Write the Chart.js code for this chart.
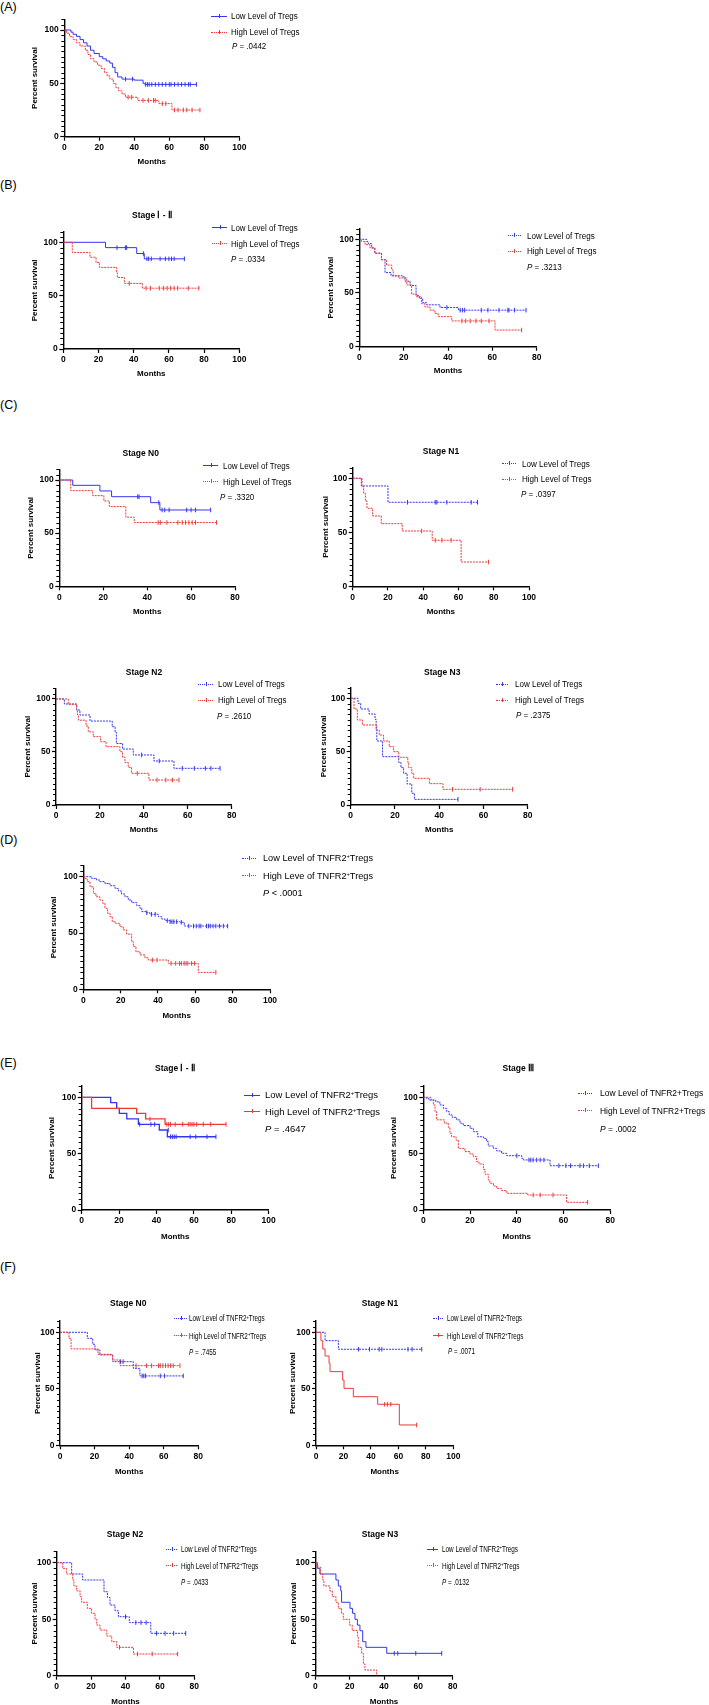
<!DOCTYPE html>
<html><head><meta charset="utf-8">
<script src="https://cdn.jsdelivr.net/npm/chart.js@4.4.1/dist/chart.umd.min.js"></script>
<style>
html,body{margin:0;padding:0;background:#fff}
body{width:709px;height:1705px;position:relative;overflow:hidden;font-family:"Liberation Sans",Arial,Helvetica,sans-serif;color:#000}
canvas{position:absolute}
.t{position:absolute;white-space:nowrap;line-height:1}
sup{font-size:0.62em;vertical-align:0;position:relative;top:-0.5em}
</style></head><body>
<script>
// ---------------- DATA ----------------
const X_TICKS_100 = [0,20,40,60,80,100];
const X_TICKS_80 = [0,20,40,60,80];
const Y_TICKS = [0,50,100];
const Y_MINOR = [5,10,15,20,25,30,35,40,45,55,60,65,70,75,80,85,90,95,105,110];

const LEG_TREGS = ['Low Level of Tregs','High Level of Tregs'];
const LEG_TNFR2_D = ['Low Level of TNFR2<sup>+</sup>Tregs','High Leve of TNFR2<sup>+</sup>Tregs'];
const LEG_TNFR2 = ['Low Level of TNFR2<sup>+</sup>Tregs','High Level of TNFR2<sup>+</sup>Tregs'];
const LEG_TNFR2_PLAIN = ['Low Level of TNFR2+Tregs','High Level of TNFR2+Tregs'];

// (A)
const A_low = [[0,100],[3.8,98],[5,96],[7,94],[9,91],[11,88],[13,85],[15,81],[17,78],[20,75],[22,73],[24,71],[26,69],[27.5,65],[29,60],[30.5,56],[33,54],[40,53],[45,50],[46,49],[75.5,49]];
const A_lowCens = [[35,54],[39,54],[46.5,49],[47.5,49],[48.5,49],[50,49],[52,49],[54,49],[56,49],[58,49],[60,49],[61,49],[63,49],[65,49],[67,49],[69,49],[71,49],[72,49],[75.5,49]];
const A_high = [[0,100],[1.3,97],[3,94],[5,91],[7,88],[9,85],[12,81],[13.5,77],[15,73],[17,70],[19,67],[21,64],[23,60],[24.5,57],[26,54],[28,50],[29.5,46],[31,43],[33,40],[35,37],[42,34],[54,31],[61.5,25],[77.5,25]];
const A_highCens = [[36.5,37],[38.5,37],[45,34],[48,34],[51,34],[52,34],[56,31],[58,31],[63,25],[65,25],[68,25],[70,25],[73,25],[77.5,25]];
// (B) Stage I-II
const BL_low = [[0,100],[24,95],[41.7,89.5],[46,84.5],[68.8,84.5]];
const BL_lowCens = [[30.5,95],[35.3,95],[36,95],[45.5,89.5],[47.5,84.5],[48.5,84.5],[50,84.5],[55,84.5],[58,84.5],[60,84.5],[61.5,84.5],[63,84.5],[68.8,84.5]];
const BL_high = [[0,100],[5.1,90.5],[15.2,86],[18.6,81],[20.5,76.5],[30.3,71.5],[30.7,67],[34.7,61.5],[44.9,57],[77,57]];
const BL_highCens = [[37.5,61.5],[47,57],[49.5,57],[54.5,57],[57,57],[59,57],[61,57],[63,57],[65,57],[71,57],[77,57]];
// (B) right
const BR_low = [[0,100],[3.3,98],[4,96],[5.6,92],[7,87],[10,81],[11.6,69],[14.3,66],[19.5,65],[20.6,61],[22.9,57],[25.6,47.5],[27,45],[28.6,41],[30.4,39],[36.4,36.5],[44.7,34],[75.2,34]];
const BR_lowCens = [[39.5,36.5],[45.5,34],[46.5,34],[47.5,34],[55,34],[58,34],[63,34],[67,34],[67.5,34],[70,34],[75.2,34]];
const BR_high = [[0,100],[1,98],[2.6,95],[4.8,92],[7,87],[10,81],[12.3,76],[14.6,71.5],[15.3,66],[17.6,64],[21.4,57.5],[23.6,49],[25.9,46.5],[28.1,40],[29.6,37],[31.9,34],[34.1,31],[35.6,28],[41.7,24],[61.2,15.5],[73.2,15.5]];
const BR_highCens = [[46.3,24],[48,24],[50,24],[52.6,24],[55,24],[58.5,24],[73.2,15.5]];
// (C) N0
const CN0_low = [[0,100],[6.1,95],[18.5,89.7],[23.8,84.3],[41.6,78.7],[45.8,71.8],[68.9,71.8]];
const CN0_lowCens = [[35.7,84.3],[36.3,84.3],[45.3,78.7],[46.8,71.8],[48,71.8],[50,71.8],[58,71.8],[60,71.8],[62,71.8],[68.9,71.8]];
const CN0_high = [[0,100],[5.2,90],[15.2,85.3],[20.3,80.3],[22.8,75],[30.3,65],[34.1,60],[71.6,60]];
const CN0_highCens = [[45,60],[46,60],[49,60],[54,60],[56,60],[57.5,60],[59,60],[60.5,60],[62,60],[71.6,60]];
// (C) N1
const CN1_low = [[0,100],[4.9,92.9],[20,77.8],[70.8,77.8]];
const CN1_lowCens = [[31.1,77.8],[46.8,77.8],[47.7,77.8],[53.4,77.8],[67.2,77.8],[70.8,77.8]];
const CN1_high = [[0,100],[5.3,92.3],[6.2,86.1],[7.2,79],[8.1,72.2],[11.3,65.1],[16.2,58],[28.1,51.2],[45.1,42.6],[61.5,22.5],[77,22.5]];
const CN1_highCens = [[39.1,51.2],[46.8,42.6],[50.6,42.6],[55.8,42.6],[77,22.5]];
// (C) N2
const CN2_low = [[0,100],[3.8,95.3],[9.4,89.6],[10.9,84.9],[15.5,79.2],[25.6,73.9],[26.9,68.6],[27.5,58],[30.3,52.8],[35.2,47.2],[44.6,41.5],[53.7,34.6],[74.7,34.6]];
const CN2_lowCens = [[39,47.2],[47,41.5],[57.5,34.6],[63,34.6],[68,34.6],[70.5,34.6],[74.7,34.6]];
const CN2_high = [[0,100],[5.6,95],[9.4,89.6],[9.8,85],[10.2,80],[13.7,74.5],[14.7,69],[17,64.5],[20.3,59.7],[22.8,55],[29.1,50.3],[30.3,45],[31.4,40],[32.9,35.5],[34.4,29.9],[42.3,23.6],[56,23.6]];
const CN2_highCens = [[37,29.9],[46,23.6],[50,23.6],[53,23.6],[56,23.6]];
// (C) N3
const CN3_low = [[0,100],[3.3,95.3],[4.5,90],[8.3,85.3],[11,80.3],[11.5,70],[11.8,60],[14.4,45.3],[21.7,40],[22.7,35],[23.9,29.7],[25.5,19.7],[27.6,11],[28.8,5.3],[48.5,5.3]];
const CN3_lowCens = [[48.5,5.3]];
const CN3_high = [[0,100],[1.5,90],[3,79.7],[5.3,75],[11.8,70.3],[12.9,65.6],[14.8,60],[17.4,54.7],[19.4,50],[21.7,44.7],[25.8,40],[26.2,35],[27.6,29.7],[28.5,25],[35.6,20],[41.7,14.7],[73.2,14.7]];
const CN3_highCens = [[46,14.7],[58.5,14.7],[73.2,14.7]];
// (D)
const D_low = [[0,100],[4.5,98.5],[7.1,97],[8.9,95.6],[11.6,94],[14.3,92],[17,89.6],[18.8,87.3],[20.5,84.6],[22.3,82.2],[24.1,79.3],[25.9,77],[28.6,74.3],[30.4,71.9],[31.3,69],[33.9,68],[35.7,66.6],[40.2,64.5],[42,62.4],[43.8,61],[46.4,60],[51.8,59.5],[54.1,56.2],[77.3,56.2]];
const D_lowCens = [[34,68],[36.5,66.6],[38.5,66.6],[45,61],[46.5,60],[47.5,60],[48.5,60],[50,60],[52.5,59.5],[56.5,56.2],[59,56.2],[60.5,56.2],[62,56.2],[63,56.2],[66,56.2],[67,56.2],[68,56.2],[69.5,56.2],[71,56.2],[73,56.2],[75,56.2],[77.3,56.2]];
const D_high = [[0,100],[0.9,98.5],[2.1,95.6],[3.6,91],[5.4,85.2],[6.8,82.2],[8.9,79.3],[10.4,76.3],[11.6,71.9],[13,67.5],[14.3,64.5],[15.5,60],[17.3,58.6],[19.6,55.6],[21.4,52.7],[23.2,49],[25.9,42.3],[26.8,37.9],[28.2,33.4],[30.4,30.5],[33,28],[34.8,26],[45.5,23],[61.6,15],[71,15]];
const D_highCens = [[37,26],[39.5,26],[47,23],[49.5,23],[51.5,23],[52.5,23],[54,23],[55,23],[56,23],[58,23],[59.5,23],[71,15]];
// (E) Stage I-II
const EL_low = [[0,100],[15.5,95.3],[18.7,90.2],[20.1,85.8],[24.1,80.8],[30.3,76],[41.5,71],[45.8,65],[71.8,65]];
const EL_lowCens = [[31,76],[37,76],[39,76],[46.3,71],[47.5,65],[48.5,65],[49.5,65],[50.5,65],[58,65],[61,65],[67,65],[71.8,65]];
const EL_high = [[0,100],[5.3,90.2],[29.4,85.8],[34.2,80.8],[44.6,76],[77.2,76]];
const EL_highCens = [[36.5,80.8],[45.5,76],[46.5,76],[47.5,76],[50,76],[54,76],[57,76],[58,76],[59,76],[60,76],[61.5,76],[65,76],[69,76],[77.2,76]];
// (E) Stage III
const ER_low = [[0,100],[1.4,99],[2.4,97.6],[5.3,96],[7.1,93.2],[8.6,90.2],[10,87.3],[11.1,84.3],[12.4,82.2],[14.3,80],[15.7,77],[17.1,74.9],[20,72.5],[21.4,69.5],[23.3,65],[25.7,63.6],[27.1,60.7],[27.8,56.8],[30,54.7],[31.4,52.4],[33.5,50.3],[35.7,48.2],[42.1,45.9],[42.8,44.4],[54.2,39.3],[74.9,39.3]];
const ER_lowCens = [[40,48.2],[45.2,44.4],[46,44.4],[47,44.4],[48.5,44.4],[50,44.4],[51.6,44.4],[58,39.3],[61,39.3],[63,39.3],[67,39.3],[68.5,39.3],[71,39.3],[74.9,39.3]];
const ER_high = [[0,100],[3.3,97.6],[4.3,93.2],[5,87.3],[5.7,80],[9,77],[10.7,73.4],[11.4,68],[12.1,65],[14,62],[15,54.7],[17.8,51.8],[20,49.7],[21.4,47.3],[22.8,42.9],[23.8,40.8],[25.7,36],[26.4,31.7],[27.8,26.6],[28.5,23.7],[30,21.3],[31.4,19.2],[33.5,17.2],[35.7,14.8],[44.7,13.3],[61.3,6.8],[70.3,6.8]];
const ER_highCens = [[47,13.3],[50,13.3],[55.5,13.3],[70.3,6.8]];
// (F) N0
const FN0_low = [[0,100],[15.8,94.7],[18.9,89.4],[20.2,84.4],[23.1,80],[30.5,74],[42.4,68.1],[46.2,61.4],[71.3,61.4]];
const FN0_lowCens = [[35,74],[36.5,74],[47.5,61.4],[48.5,61.4],[49.5,61.4],[58,61.4],[60.5,61.4],[71.3,61.4]];
const FN0_high = [[0,100],[5.2,94.7],[6.4,85.3],[22,80.5],[30.4,75.5],[34.7,70.5],[69.4,70.5]];
const FN0_highCens = [[44,70.5],[50,70.5],[53,70.5],[57,70.5],[58,70.5],[59.5,70.5],[61,70.5],[62.5,70.5],[64,70.5],[65.5,70.5],[69.4,70.5]];
// (F) N1
const FN1_low = [[0,100],[6.6,92.6],[16.3,85],[77,85]];
const FN1_lowCens = [[31,85],[39,85],[46,85],[48,85],[67,85],[70,85],[77,85]];
const FN1_high = [[0,100],[3.6,92.6],[4.9,85.3],[6.6,79],[9.5,72.6],[10.2,65.2],[19.4,57.8],[20.4,50.4],[27.2,43],[44.9,36.3],[60.7,18],[73.3,18]];
const FN1_highCens = [[50,36.3],[52,36.3],[54.5,36.3],[73.3,18]];
// (F) N2
const FN2_low = [[0,100],[8.7,90],[15.1,84.7],[27.5,74.3],[29.5,69.3],[31,62.5],[33.9,57.5],[35.9,52.2],[42.2,47],[54.7,37.5],[75,37.5]];
const FN2_lowCens = [[40,52.2],[46,47],[49,47],[52,47],[58,37.5],[63,37.5],[68,37.5],[75,37.5]];
const FN2_high = [[0,100],[3.5,95],[5.8,90],[9.3,84.7],[10,79.4],[11.6,75],[13.6,70],[14.5,65],[17.8,59.6],[20.3,55.2],[22.3,49.9],[23.3,44.8],[25.2,40.4],[29.1,35.1],[32,30.1],[34.9,25.1],[44.6,19.2],[70.3,19.2]];
const FN2_highCens = [[36.5,25.1],[47,19.2],[55.5,19.2],[70.3,19.2]];
// (F) N3
const FN3_low = [[0,100],[1.2,95],[2.7,90],[12,84.7],[13.4,79.4],[14.8,75],[15.3,65],[20.2,59.6],[21.7,55.2],[23.1,49.9],[24.5,44.8],[26,39.8],[27.6,30.1],[29.5,25.1],[41.6,19.8],[73.6,19.8]];
const FN3_lowCens = [[46,19.8],[48,19.8],[58.5,19.8],[73.6,19.8]];
const FN3_high = [[0,100],[0.8,96],[3.1,90],[4.3,84.7],[5,79.4],[8.5,75],[9.9,70],[12,65],[13.4,59.6],[15.3,55.2],[16.3,49.9],[20,44.8],[21.5,40],[24.5,35.1],[25,25.1],[27,19.8],[28,10.3],[28.9,5],[35.7,0]];
const FN3_highCens = [];

// ---------------- LAYOUT / STYLE ----------------
const FONT = '"Liberation Sans", Arial, Helvetica, sans-serif';
const BLUE = '#3535f0';
const RED = '#ec3a3a';
const DASH = [2,1];

const PANELS = [
 {low:A_low,lowC:A_lowCens,high:A_high,highC:A_highCens,xMax:100,xTicks:X_TICKS_100,dl:false,dh:true,labels:LEG_TREGS,p:'<i>P</i> = .0442',
  g:{axX:64.3,y100:30,y0:136.7,xEnd:239.3,ylabX:35,monthsY:162},
  leg:{x1:211,x2:227,tx:231,ys:[16,32],px:232,py:46,size:8.5,w:66.7}},
 {low:BL_low,lowC:BL_lowCens,high:BL_high,highC:BL_highCens,xMax:100,xTicks:X_TICKS_100,dl:false,dh:true,labels:LEG_TREGS,p:'<i>P</i> = .0334',
  title:['Stage Ⅰ - Ⅱ',152,215],
  g:{axX:63.3,y100:242.3,y0:349,xEnd:239.3,ylabX:35,monthsY:373.5},
  leg:{x1:212,x2:227,tx:231,ys:[227.7,243.7],px:231,py:258.7,size:8.5,w:66.7}},
 {low:BR_low,lowC:BR_lowCens,high:BR_high,highC:BR_highCens,xMax:80,xTicks:X_TICKS_80,dl:true,dh:true,labels:LEG_TREGS,p:'<i>P</i> = .3213',
  g:{axX:359.3,y100:239.3,y0:346.7,xEnd:536.7,ylabX:331.7,monthsY:370.7},
  leg:{x1:507.7,x2:521,tx:527.3,ys:[235.7,251],px:527.3,py:266.7,size:8.5,w:67.7}},
 {low:CN0_low,lowC:CN0_lowCens,high:CN0_high,highC:CN0_highCens,xMax:80,xTicks:X_TICKS_80,dl:false,dh:true,labels:LEG_TREGS,p:'<i>P</i> = .3320',
  title:['Stage N0',140.7,453.3],
  g:{axX:59.3,y100:480,y0:586.3,xEnd:235,ylabX:31.7,monthsY:611.5},
  leg:{x1:203,x2:218,tx:222.7,ys:[465.7,481.7],px:220,py:497,size:8.5,w:66.7}},
 {low:CN1_low,lowC:CN1_lowCens,high:CN1_high,highC:CN1_highCens,xMax:100,xTicks:X_TICKS_100,dl:true,dh:true,labels:LEG_TREGS,p:'<i>P</i> = .0397',
  title:['Stage N1',441,451],
  g:{axX:352.7,y100:478.3,y0:586.3,xEnd:529,ylabX:326,monthsY:611.5},
  leg:{x1:501.7,x2:516,tx:521.7,ys:[463.7,479.3],px:520.7,py:493.7,size:8.5,w:67.7}},
 {low:CN2_low,lowC:CN2_lowCens,high:CN2_high,highC:CN2_highCens,xMax:80,xTicks:X_TICKS_80,dl:true,dh:true,labels:LEG_TREGS,p:'<i>P</i> = .2610',
  title:['Stage N2',144,671.7],
  g:{axX:56,y100:699,y0:805,xEnd:231.7,ylabX:28.3,monthsY:829.5},
  leg:{x1:198,x2:213,tx:218.3,ys:[684.3,700.3],px:216.7,py:716,size:8.5,w:66.7}},
 {low:CN3_low,lowC:CN3_lowCens,high:CN3_high,highC:CN3_highCens,xMax:80,xTicks:X_TICKS_80,dl:true,dh:true,labels:LEG_TREGS,p:'<i>P</i> = .2375',
  title:['Stage N3',442.3,671.7],
  g:{axX:350.7,y100:698.3,y0:805,xEnd:527.7,ylabX:324,monthsY:829.5},
  leg:{x1:496,x2:508,tx:515.3,ys:[684,700],px:516,py:714.7,size:8.5,w:67.3}},
 {low:D_low,lowC:D_lowCens,high:D_high,highC:D_highCens,xMax:100,xTicks:X_TICKS_100,dl:true,dh:true,labels:LEG_TNFR2_D,p:'<i>P</i> &lt; .0001',
  g:{axX:83.3,y100:876.7,y0:989.3,xEnd:270,ylabX:54.3,monthsY:1015.7},
  leg:{x1:242,x2:256,tx:263.3,ys:[858.3,875.7],px:263.3,py:892.7,size:9.5,w:110}},
 {low:EL_low,lowC:EL_lowCens,high:EL_high,highC:EL_highCens,xMax:100,xTicks:X_TICKS_100,dl:false,dh:false,lw:1.3,labels:LEG_TNFR2,p:'<i>P</i> = .4647',
  title:['Stage Ⅰ - Ⅱ',175,1068.3],
  g:{axX:81.7,y100:1097.3,y0:1210,xEnd:268.7,ylabX:52.7,monthsY:1236.7},
  leg:{x1:244,x2:260,tx:265,ys:[1095,1111.7],px:265,py:1129,size:9.5,w:113}},
 {low:ER_low,lowC:ER_lowCens,high:ER_high,highC:ER_highCens,xMax:80,xTicks:X_TICKS_80,dl:true,dh:true,labels:LEG_TNFR2_PLAIN,p:'<i>P</i> = .0002',
  title:['Stage Ⅲ',518.3,1068.3],
  g:{axX:423.3,y100:1097.3,y0:1210,xEnd:610.3,ylabX:394.3,monthsY:1236.7},
  leg:{x1:577.7,x2:592.3,tx:600,ys:[1093.3,1110.7],px:600,py:1129,size:9,w:103.3}},
 {low:FN0_low,lowC:FN0_lowCens,high:FN0_high,highC:FN0_highCens,xMax:80,xTicks:X_TICKS_80,dl:true,dh:true,labels:LEG_TNFR2,p:'<i>P</i> = .7455',
  title:['Stage N0',128.3,1303.3],
  g:{axX:60,y100:1332.3,y0:1445.3,xEnd:198.3,ylabX:38.3,monthsY:1471.7},
  leg:{x1:174,x2:187.3,tx:189.3,ys:[1318.3,1335.7],px:189.3,py:1352.3,size:9,w:75.7}},
 {low:FN1_low,lowC:FN1_lowCens,high:FN1_high,highC:FN1_highCens,xMax:100,xTicks:X_TICKS_100,dl:true,dh:false,labels:LEG_TNFR2,p:'<i>P</i> = .0071',
  title:['Stage N1',380,1303.3],
  g:{axX:316,y100:1332.3,y0:1445.3,xEnd:453.3,ylabX:293.3,monthsY:1471.7},
  leg:{x1:432.7,x2:443.3,tx:446.7,ys:[1318.3,1335.7],px:448.3,py:1350.7,size:9,w:75}},
 {low:FN2_low,lowC:FN2_lowCens,high:FN2_high,highC:FN2_highCens,xMax:80,xTicks:X_TICKS_80,dl:true,dh:true,labels:LEG_TNFR2,p:'<i>P</i> = .0433',
  title:['Stage N2',125,1534],
  g:{axX:56.7,y100:1562.7,y0:1675.7,xEnd:194.3,ylabX:35,monthsY:1701.7},
  leg:{x1:165.7,x2:177.3,tx:181,ys:[1549,1565.7],px:181,py:1581.7,size:9,w:75.7}},
 {low:FN3_low,lowC:FN3_lowCens,high:FN3_high,highC:FN3_highCens,xMax:80,xTicks:X_TICKS_80,dl:false,dh:true,labels:LEG_TNFR2,p:'<i>P</i> = .0132',
  title:['Stage N3',380,1534],
  g:{axX:315.3,y100:1562.7,y0:1675.7,xEnd:452.7,ylabX:294.3,monthsY:1701.7},
  leg:{x1:426.7,x2:438.3,tx:441.7,ys:[1549,1565.7],px:441.7,py:1581.7,size:9,w:76}}
];

const PANEL_LABELS = [['(A)',7],['(B)',185],['(C)',405],['(D)',840],['(E)',1063.3],['(F)',1267]];

// ---------------- DRAWING ----------------
const minorTicks = {
  id:'minorTicks',
  afterDraw(chart){
    const y = chart.scales.y, ctx = chart.ctx, x0 = chart.chartArea.left;
    ctx.save(); ctx.strokeStyle='#000'; ctx.lineWidth=1;
    for (const v of Y_MINOR){
      const py = Math.round(y.getPixelForValue(v)) + 0.5;
      ctx.beginPath(); ctx.moveTo(x0-3, py); ctx.lineTo(x0, py); ctx.stroke();
    }
    ctx.restore();
  }
};

function txt(html, x, y, size, extra){
  const d = document.createElement('div');
  d.className='t'; d.innerHTML = html;
  d.style.left = x+'px'; d.style.top = y+'px';
  d.style.fontSize = size+'px';
  if (extra) Object.assign(d.style, extra);
  document.body.appendChild(d);
  return d;
}

function mk(pts){ return pts.map(([x,y])=>({x,y})); }

function buildChart(p){
  const g = p.g, lh = 8*1.2;
  const L0 = g.axX - g.ylabX + lh/2;
  const B0 = g.monthsY - g.y0 + lh/2;
  const yTop = g.y0 - 1.1*(g.y0 - g.y100);
  const plotW = g.xEnd - g.axX, plotH = g.y0 - yTop;
  const left = Math.floor(g.axX - L0), top = Math.floor(yTop - 8);
  const L = g.axX - left, T = yTop - top;
  const W = Math.ceil(L + plotW + 12), H = Math.ceil(T + plotH + B0);
  const R = W - L - plotW, B = H - T - plotH;
  const cv = document.createElement('canvas');
  cv.width = W; cv.height = H;
  cv.style.left = left+'px'; cv.style.top = top+'px';
  cv.style.width = W+'px'; cv.style.height = H+'px';
  document.body.appendChild(cv);
  const lw = p.lw || 1;
  const curve = (pts,col,dash,ord)=>({data:mk(pts),borderColor:col,borderWidth:lw,borderDash:dash?DASH:[],stepped:true,pointRadius:0,fill:false,order:ord});
  const cens = (pts,col,ord)=>({data:mk(pts),showLine:false,pointStyle:'line',pointRotation:90,pointRadius:2.3,pointBorderColor:col,pointBorderWidth:1,borderColor:col,order:ord});
  const tickFont = {family:FONT,size:8.5,weight:'bold'};
  const titleFont = {family:FONT,size:8,weight:'bold'};
  new Chart(cv, {
    type:'line',
    data:{datasets:[curve(p.low,BLUE,p.dl,2),cens(p.lowC,BLUE,2),curve(p.high,RED,p.dh,1),cens(p.highC,RED,1)]},
    options:{
      responsive:false, animation:false, events:[],
      layout:{padding:{top:T,right:R,left:0,bottom:0}},
      plugins:{legend:{display:false},tooltip:{enabled:false},title:{display:false}},
      scales:{
        x:{type:'linear',min:0,max:p.xMax,
           afterBuildTicks:s=>{s.ticks=p.xTicks.map(v=>({value:v}));},
           afterFit:s=>{s.height=B;},
           grid:{display:true,drawOnChartArea:false,drawTicks:true,tickLength:4,tickColor:'#000',tickWidth:1.2},
           border:{display:true,color:'#000',width:1.4},
           ticks:{color:'#000',font:tickFont,padding:2,maxRotation:0,autoSkip:false},
           title:{display:true,text:'Months',color:'#000',font:titleFont,padding:0}},
        y:{type:'linear',min:0,max:110,
           afterBuildTicks:s=>{s.ticks=Y_TICKS.map(v=>({value:v}));},
           afterFit:s=>{s.width=L;},
           grid:{display:true,drawOnChartArea:false,drawTicks:true,tickLength:4,tickColor:'#000',tickWidth:1.2},
           border:{display:true,color:'#000',width:1.4},
           ticks:{color:'#000',font:tickFont,padding:1.5,autoSkip:false},
           title:{display:true,text:'Percent survival',color:'#000',font:titleFont,padding:0}}
      }
    },
    plugins:[minorTicks]
  });
}

function buildLegend(p){
  const lg = p.leg, cols=[BLUE,RED], dashes=[p.dl,p.dh];
  let s = 1;
  p.labels.forEach((label,i)=>{
    const y = lg.ys[i], col = cols[i];
    const ln = document.createElement('div');
    Object.assign(ln.style,{position:'absolute',left:lg.x1+'px',top:(y-0.5)+'px',width:(lg.x2-lg.x1)+'px',height:'0',
      borderTop:(p.lw?'1.3px ':'1px ')+(dashes[i]?'dotted ':'solid ')+col});
    document.body.appendChild(ln);
    const tk = document.createElement('div');
    Object.assign(tk.style,{position:'absolute',left:((lg.x1+lg.x2)/2)+'px',top:(y-2.5)+'px',width:'0',height:'4px',borderLeft:'1px solid '+col});
    document.body.appendChild(tk);
    const d = txt(label, lg.tx, y, lg.size, {transformOrigin:'left center'});
    if (i===0) s = lg.w / d.getBoundingClientRect().width;
    d.style.transform = 'translateY(-50%) scaleX('+s+')';
  });
  const pd = txt(p.p, lg.px, lg.py, lg.size, {transformOrigin:'left center'});
  pd.style.transform = 'translateY(-50%) scaleX('+s+')';
}

PANEL_LABELS.forEach(([t,y])=>txt(t,0,y,12.5,{transform:'translateY(-50%)'}));
PANELS.forEach(p=>{
  buildChart(p);
  buildLegend(p);
  if (p.title) txt(p.title[0], p.title[1], p.title[2], 8.5, {fontWeight:'bold',transform:'translate(-50%,-50%)'});
});
</script>
</body></html>
